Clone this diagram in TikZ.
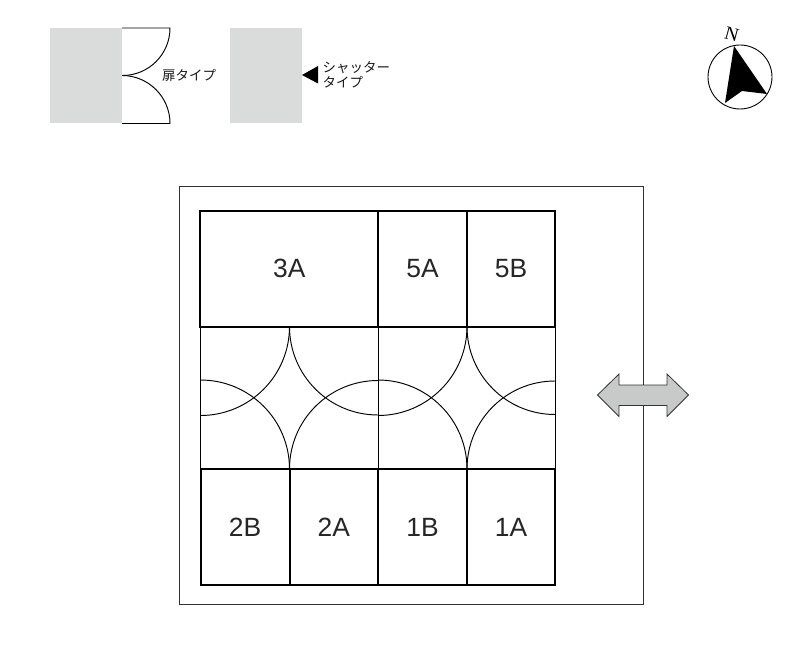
\documentclass[tikz,border=0pt]{standalone}
\usepackage{fontspec}
\setmainfont{Liberation Sans}
\newfontfamily\jpfont{Noto Sans CJK JP}
\newfontfamily\serifN{Liberation Serif}
\definecolor{wallgray}{HTML}{DADBDB}
\definecolor{arrowgray}{HTML}{C8CACA}
\definecolor{edgegray}{HTML}{333333}
\tikzset{
  room/.style={draw=black,line width=2bp,inner sep=0pt,text=black!85,font=\fontsize{26.5}{26.5}\selectfont},
  wall/.style={fill=wallgray,draw=none},
  thinline/.style={draw=black,line width=0.8bp},
  arcline/.style={draw=black,line width=0.95bp},
  jplabel/.style={font=\jpfont\fontsize{13.5}{14.5}\selectfont,inner sep=0pt,align=left,text=black!90}
}
\begin{document}
\begin{tikzpicture}[x=1bp,y=-1bp]
\useasboundingbox (0,0) rectangle (800,661);
\fill[white] (0,0) rectangle (800,661);
% legend
\fill[wall] (50,28) rectangle (122,123.5);
\fill[wall] (230,28) rectangle (301.5,123.5);
\coordinate (d1) at (122,28);
\coordinate (d2) at (170,28);
\coordinate (d3) at (122,75.5);
\coordinate (d5) at (122,123.5);
\draw[arcline] (d1) -- (d2) arc[start angle=0,end angle=90,radius=47.5];
\draw[arcline] (d3) arc[start angle=-90,end angle=0,radius=48] -- (d5);
\node[jplabel,anchor=west] (doorlabel) at (162,75.5) {扉タイプ};
\fill[black] (302,75) -- (318,66) -- (318,83.5) -- cycle;
\node[jplabel,anchor=west] (shutterlabel) at (322.5,75) {シャッター\\タイプ};
% compass
\node[circle,draw=black,line width=0.9bp,minimum size=64bp,inner sep=0pt] (compass) at (740,77) {};
\fill[black] (734,46) -- (767,94) -- (742,91) -- (725,103) -- cycle;
\node[font=\serifN\fontsize{19}{19}\selectfont,rotate=-15,inner sep=0pt] (north) at (731.7,34.3) {N};
% site
\draw[draw=edgegray,line width=0.8bp] (179,186.5) rectangle (643,604);
% paths area
\coordinate (tl) at (200.5,326.5);
\coordinate (tm1) at (289.5,326.5);
\coordinate (tm2) at (378,326.5);
\coordinate (tm3) at (467,326.5);
\coordinate (tr) at (555,326.5);
\coordinate (bl) at (200.5,469);
\coordinate (bm1) at (289.5,469);
\coordinate (bm2) at (378,469);
\coordinate (bm3) at (467,469);
\coordinate (br) at (555,469);
\draw[thinline] (tl) -- (bl);
\draw[thinline] (tm2) -- (bm2);
\draw[thinline] (tr) -- (br);
% arcs: top corners
\draw[arcline] (tm1) arc[start angle=0,end angle=90,radius=89];
\draw[arcline] (tm1) arc[start angle=180,end angle=90,radius=88.5];
\draw[arcline] (tm3) arc[start angle=0,end angle=90,radius=89];
\draw[arcline] (tm3) arc[start angle=180,end angle=90,radius=88];
% arcs: bottom corners
\draw[arcline] (bm1) arc[start angle=0,end angle=-90,radius=89];
\draw[arcline] (bm1) arc[start angle=180,end angle=270,radius=88.5];
\draw[arcline] (bm3) arc[start angle=0,end angle=-90,radius=89];
\draw[arcline] (bm3) arc[start angle=180,end angle=270,radius=88];
% rooms
\node[room,minimum width=178bp,minimum height=116bp] (r3A) at (289.25,268.5) {3A};
\node[room,minimum width=89bp,minimum height=116bp] (r5A) at (422.5,268.5) {5A};
\node[room,minimum width=88bp,minimum height=116bp] (r5B) at (511,268.5) {5B};
\node[room,minimum width=89bp,minimum height=116bp] (r2B) at (245,527) {2B};
\node[room,minimum width=88.5bp,minimum height=116bp] (r2A) at (333.75,527) {2A};
\node[room,minimum width=89bp,minimum height=116bp] (r1B) at (422.5,527) {1B};
\node[room,minimum width=88bp,minimum height=116bp] (r1A) at (511,527) {1A};
% double arrow
\draw[fill=arrowgray,draw=edgegray,line width=0.8bp,line join=miter]
 (597.5,395) -- (619,374) -- (619,385) -- (667,385) -- (667,374) -- (688.5,395)
 -- (667,416.5) -- (667,405.5) -- (619,405.5) -- (619,416.5) -- cycle;
\end{tikzpicture}
\end{document}
